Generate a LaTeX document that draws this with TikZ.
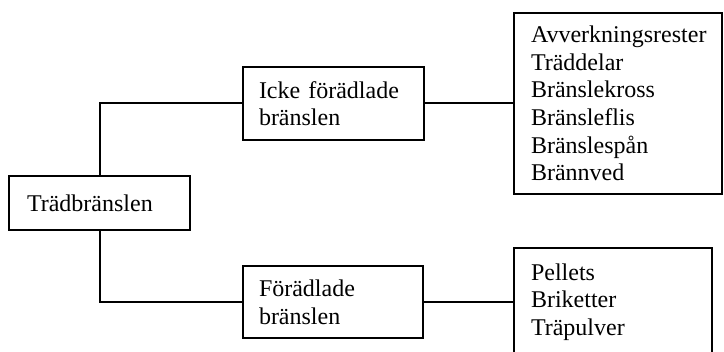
\documentclass[tikz,border=0pt]{standalone}
\usepackage{fontspec}
\setmainfont{Liberation Serif}

\tikzset{
    fuelbox/.style={draw, rectangle, line width=1pt, align=left, inner ysep=0pt,
        font=\fontsize{12}{13.8}\selectfont},
    link/.style={line width=1pt}
}

\begin{document}
\begin{tikzpicture}[x=0.5pt, y=-0.5pt]

    % Frame of the picture
    \useasboundingbox (0, 0) rectangle (724, 352);

    % Root box
    \node[fuelbox, text width=72.5pt, inner xsep=9pt, minimum height=27pt] (root) at (99.5, 203) {Trädbränslen};

    % Middle boxes
    \node[fuelbox, text width=74.5pt, inner xsep=8pt, minimum height=36.5pt] (raw) at (333.5, 103.5) {Icke förädlade\\bränslen};
    \node[fuelbox, text width=74pt, inner xsep=8pt, minimum height=36pt] (refined) at (333, 302) {Förädlade\\bränslen};

    % Lists of fuels
    \node[fuelbox, text width=87pt, inner xsep=8.5pt, minimum height=90.5pt] (rawlist) at (618, 103.5)
        {Avverkningsrester\\Träddelar\\Bränslekross\\Bränsleflis\\Bränslespån\\Brännved};
    \node[fuelbox, text width=82pt, inner xsep=8.5pt, minimum height=54pt] (refinedlist) at (613, 302)
        {Pellets\\Briketter\\Träpulver};

    % Connectors
    \draw[link] (root.north) |- (raw.west);
    \draw[link] (root.south) |- (refined.west);
    \draw[link] (raw.east) -- (rawlist.west);
    \draw[link] (refined.east) -- (refinedlist.west);

\end{tikzpicture}
\end{document}
